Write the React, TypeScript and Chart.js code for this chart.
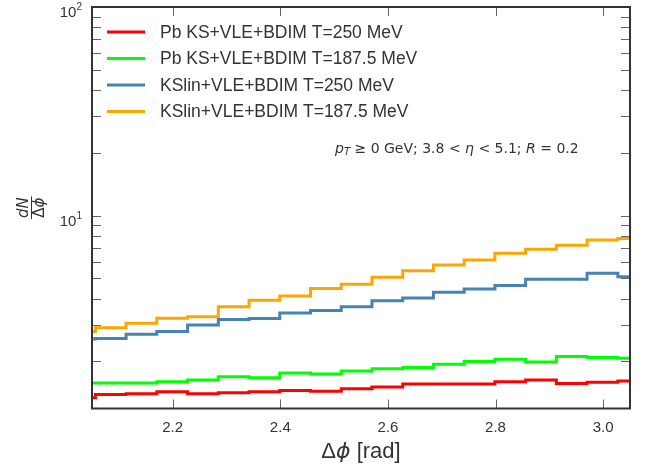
import React, { useEffect, useRef } from "react";
import { Chart, registerables } from "chart.js";
Chart.register(...registerables);

// Bin edges (rad) of the step histograms
const BIN_EDGES = [
  1.9992, 2.0563, 2.1134, 2.1705, 2.2277, 2.2848, 2.3419, 2.399, 2.4561, 2.5133,
  2.5704, 2.6275, 2.6846, 2.7418, 2.7989, 2.856, 2.9131, 2.9702, 3.0274, 3.0845,
];

// Bin contents (dN/dphi), one per bin
const PB_250 = [1.34, 1.39, 1.4, 1.43, 1.4, 1.415, 1.43, 1.45, 1.44, 1.48, 1.51, 1.56, 1.56, 1.56, 1.6, 1.63, 1.57, 1.59, 1.61];
const PB_1875 = [1.575, 1.575, 1.575, 1.6, 1.63, 1.69, 1.67, 1.76, 1.74, 1.8, 1.845, 1.87, 1.94, 2.0, 2.05, 1.99, 2.11, 2.09, 2.07];
const KSLIN_250 = [2.56, 2.58, 2.7, 2.78, 2.99, 3.18, 3.21, 3.41, 3.51, 3.66, 3.91, 4.03, 4.29, 4.45, 4.62, 4.95, 4.95, 5.29, 5.1];
const KSLIN_1875 = [2.78, 2.9, 3.05, 3.22, 3.28, 3.66, 3.93, 4.12, 4.48, 4.69, 5.06, 5.45, 5.8, 6.13, 6.6, 6.9, 7.21, 7.65, 7.76];

const SERIES_LABELS = [
  "Pb KS+VLE+BDIM T=250 MeV",
  "Pb KS+VLE+BDIM T=187.5 MeV",
  "KSlin+VLE+BDIM T=250 MeV",
  "KSlin+VLE+BDIM T=187.5 MeV",
];
const SERIES_VALUES = [PB_250, PB_1875, KSLIN_250, KSLIN_1875];
const SERIES_COLORS = ["#ff0000", "#00ff00", "#4682b4", "#ffa500"];

const X_TICKS = [2.2, 2.4, 2.6, 2.8, 3.0];
const X_TICK_LABELS = ["2.2", "2.4", "2.6", "2.8", "3.0"];
const Y_MAJOR = [10, 100];
const Y_MAJOR_EXP = ["1", "2"];
const Y_MINOR = [2, 3, 4, 5, 6, 7, 8, 9, 20, 30, 40, 50, 60, 70, 80, 90];

const X_MIN = 2.05;
const X_MAX = 3.05;
const Y_MIN = 1.19;
const Y_MAX = 100;

const SANS = '"Liberation Sans", Arial, sans-serif';
const DJ = '"DejaVu Sans", sans-serif';
const TEXT = "#333333";

type Run = { t: string; font: string; dy?: number };

function drawRuns(ctx: CanvasRenderingContext2D, runs: Run[], x: number, y: number, align: "left" | "center" | "right") {
  let total = 0;
  const widths = runs.map((r) => {
    ctx.font = r.font;
    const w = ctx.measureText(r.t).width;
    total += w;
    return w;
  });
  let cx = align === "left" ? x : align === "center" ? x - total / 2 : x - total;
  ctx.textAlign = "left";
  runs.forEach((r, i) => {
    ctx.font = r.font;
    ctx.fillText(r.t, cx, y + (r.dy || 0));
    cx += widths[i];
  });
}

const decorPlugin = {
  id: "decor",
  afterDraw(chart: any) {
    const ctx: CanvasRenderingContext2D = chart.ctx;
    const a = chart.chartArea;
    const xs = chart.scales.x;
    const ys = chart.scales.y;
    ctx.save();

    // ticks (inward, on all four sides)
    ctx.strokeStyle = "#666666";
    ctx.lineWidth = 1;
    const TL = 9;
    ctx.beginPath();
    X_TICKS.forEach((v) => {
      const px = Math.round(xs.getPixelForValue(v)) + 0.5;
      ctx.moveTo(px, a.bottom);
      ctx.lineTo(px, a.bottom - TL);
      ctx.moveTo(px, a.top);
      ctx.lineTo(px, a.top + TL);
    });
    [...Y_MAJOR, ...Y_MINOR].forEach((v) => {
      const py = Math.round(ys.getPixelForValue(v)) + 0.5;
      ctx.moveTo(a.left, py);
      ctx.lineTo(a.left + TL, py);
      ctx.moveTo(a.right, py);
      ctx.lineTo(a.right - TL, py);
    });
    ctx.stroke();

    // frame
    ctx.strokeStyle = "#333333";
    ctx.lineWidth = 2;
    ctx.strokeRect(a.left, a.top, a.right - a.left, a.bottom - a.top);

    ctx.fillStyle = TEXT;
    ctx.textBaseline = "alphabetic";

    // x tick labels
    ctx.font = `15px ${SANS}`;
    ctx.textAlign = "center";
    X_TICKS.forEach((v, i) => {
      ctx.fillText(X_TICK_LABELS[i], xs.getPixelForValue(v), a.bottom + 23);
    });

    // y tick labels 10^n
    Y_MAJOR.forEach((v, i) => {
      const py = ys.getPixelForValue(v);
      drawRuns(
        ctx,
        [
          { t: "10", font: `15px ${SANS}` },
          { t: Y_MAJOR_EXP[i], font: `10px ${SANS}`, dy: -7 },
        ],
        a.left - 10,
        py + 10,
        "right"
      );
    });

    // x title
    drawRuns(
      ctx,
      [
        { t: "Δ", font: `22px ${SANS}` },
        { t: "ϕ", font: `italic 22px ${DJ}` },
        { t: " [rad]", font: `22px ${SANS}` },
      ],
      (a.left + a.right) / 2,
      458,
      "center"
    );

    // y title: fraction dN / Δϕ rotated
    ctx.save();
    ctx.translate(31, (a.top + a.bottom) / 2);
    ctx.rotate(-Math.PI / 2);
    ctx.font = `italic 15px ${DJ}`;
    const wn = ctx.measureText("dN").width;
    drawRuns(ctx, [{ t: "dN", font: `italic 15px ${DJ}` }], 0, -3, "center");
    drawRuns(
      ctx,
      [
        { t: "Δ", font: `15px ${DJ}` },
        { t: "ϕ", font: `italic 15px ${DJ}` },
      ],
      0,
      13,
      "center"
    );
    ctx.strokeStyle = TEXT;
    ctx.lineWidth = 1;
    ctx.beginPath();
    ctx.moveTo(-wn / 2 - 1, 0.5);
    ctx.lineTo(wn / 2 + 1, 0.5);
    ctx.stroke();
    ctx.restore();

    // legend
    const rows = [32, 58.5, 85, 111.5];
    SERIES_LABELS.forEach((lab, i) => {
      ctx.strokeStyle = SERIES_COLORS[i];
      ctx.lineWidth = 3;
      ctx.beginPath();
      ctx.moveTo(107, rows[i]);
      ctx.lineTo(145, rows[i]);
      ctx.stroke();
      ctx.fillStyle = TEXT;
      ctx.font = `17.5px ${SANS}`;
      ctx.textAlign = "left";
      ctx.textBaseline = "middle";
      ctx.fillText(lab, 160, rows[i] + 1);
    });

    // annotation
    ctx.textBaseline = "alphabetic";
    drawRuns(
      ctx,
      [
        { t: "p", font: `italic 14px ${DJ}` },
        { t: "T", font: `italic 10px ${DJ}`, dy: 2 },
        { t: " ≥ 0 GeV; 3.8 < ", font: `14px ${DJ}` },
        { t: "η", font: `italic 14px ${DJ}` },
        { t: " < 5.1; ", font: `14px ${DJ}` },
        { t: "R", font: `italic 14px ${DJ}` },
        { t: " = 0.2", font: `14px ${DJ}` },
      ],
      335,
      153,
      "left"
    );

    ctx.restore();
  },
};

export default function App() {
  const ref = useRef<HTMLCanvasElement | null>(null);
  useEffect(() => {
    document.body.style.margin = "0";
    const canvas = ref.current!;
    const chart = new Chart(canvas, {
      type: "line",
      data: {
        datasets: SERIES_VALUES.map((vals, i) => ({
          label: SERIES_LABELS[i],
          data: BIN_EDGES.map((x, j) => ({ x, y: vals[Math.min(j, vals.length - 1)] })),
          borderColor: SERIES_COLORS[i],
          backgroundColor: SERIES_COLORS[i],
          borderWidth: 3,
          pointRadius: 0,
          stepped: "before" as const,
          fill: false,
          clip: 0,
        })),
      },
      options: {
        animation: false,
        responsive: false,
        maintainAspectRatio: false,
        layout: { padding: { top: 7, right: 22, left: 0, bottom: 0 } },
        plugins: { legend: { display: false }, tooltip: { enabled: false } },
        scales: {
          x: {
            type: "linear",
            min: X_MIN,
            max: X_MAX,
            ticks: { display: false },
            grid: { display: false },
            border: { display: false },
            afterFit: (s: any) => {
              s.height = 61.5;
            },
          },
          y: {
            type: "logarithmic",
            min: Y_MIN,
            max: Y_MAX,
            ticks: { display: false },
            grid: { display: false },
            border: { display: false },
            afterFit: (s: any) => {
              s.width = 92;
            },
          },
        },
      },
      plugins: [decorPlugin],
    });
    return () => chart.destroy();
  }, []);
  return <canvas ref={ref} width={652} height={470} style={{ display: "block" }} />;
}
